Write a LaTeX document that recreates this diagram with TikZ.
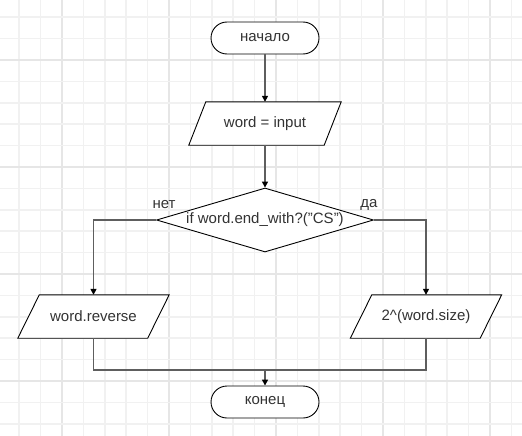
\documentclass[tikz,border=0pt]{standalone}
\usepackage{fontspec}
\setmainfont{Liberation Sans}
\usetikzlibrary{shapes.geometric,shapes.misc,arrows.meta}
\pgfdeclarelayer{gridlayer}
\pgfdeclarelayer{shapelayer}
\pgfsetlayers{gridlayer,shapelayer,main}
\definecolor{gridminor}{HTML}{F1F1F1}
\definecolor{gridmajor}{HTML}{E6E6E6}
\definecolor{conn}{HTML}{5E5E5E}
\definecolor{txt}{HTML}{333333}
\tikzset{
  labelfont/.style={text=txt, font=\fontsize{15pt}{17pt}\selectfont},
  terminal/.style={rounded rectangle, draw=black, line width=0.9pt, fill=white,
    minimum width=108pt, minimum height=32pt, inner sep=0pt, labelfont},
  iobox/.style={rectangle, draw=none, minimum height=43pt, inner sep=0pt, labelfont},
  iopath/.style={draw=black, line width=0.9pt, fill=white},
  decision/.style={diamond, draw=black, line width=0.9pt, fill=white, aspect=3.4,
    minimum width=217pt, minimum height=64pt, inner sep=0pt, labelfont},
  lbl/.style={inner sep=0pt, labelfont},
  conline/.style={draw=conn, line width=1.5pt},
  arr/.style={conline, -{Triangle[width=6pt,length=6pt,color=black]}}
}
\newcommand{\parashape}[2]{%
  \begin{pgfonlayer}{shapelayer}
  \draw[iopath] ([xshift=#2/2]#1.north west) -- ([xshift=#2/2]#1.north east)
     -- ([xshift=-#2/2]#1.south east) -- ([xshift=-#2/2]#1.south west) -- cycle;
  \end{pgfonlayer}}
\begin{document}
\begin{tikzpicture}[x=1pt,y=-1pt]
\useasboundingbox (0,0) rectangle (522,436);
\begin{pgfonlayer}{gridlayer}
\fill[white] (0,0) rectangle (522,436);
\foreach \k in {0,...,24}{
  \pgfmathsetmacro{\xx}{19.2+21.4*\k}
  \pgfmathtruncatemacro{\mm}{mod(\k+3,5)}
  \ifnum\mm=0
    \draw[gridmajor, line width=1.6pt] (\xx,0) -- (\xx,436);
  \else
    \draw[gridminor, line width=1.6pt] (\xx,0) -- (\xx,436);
  \fi
}
\foreach \k in {0,...,20}{
  \pgfmathsetmacro{\yy}{17.2+21.4*\k}
  \pgfmathtruncatemacro{\mm}{mod(\k+3,5)}
  \ifnum\mm=0
    \draw[gridmajor, line width=1.6pt] (0,\yy) -- (522,\yy);
  \else
    \draw[gridminor, line width=1.6pt] (0,\yy) -- (522,\yy);
  \fi
}
\end{pgfonlayer}
% nodes
\node[terminal] (start) at (265,38) {начало};
\node[iobox, minimum width=135pt] (inp) at (265,123.5) {word = input};
\parashape{inp}{17pt}
\node[decision] (dec) at (265,220) {if word.end\_with?("CS")};
\node[iobox, minimum width=129.5pt] (rev) at (93.5,316.5) {word.reverse};
\parashape{rev}{21.5pt}
\node[iobox, minimum width=129.5pt] (pow) at (426,316.5) {2\^{}(word.size)};
\parashape{pow}{21.5pt}
\node[terminal] (stop) at (265,402) {конец};
\node[lbl] (no) at (164,205) {нет};
\node[lbl] (yes) at (369,205) {да};
\coordinate (join) at (265,370);
% connectors
\draw[arr] (start.south) -- (inp.north);
\draw[arr] (inp.south) -- (dec.north);
\draw[arr] (dec.west) -| (rev.north);
\draw[arr] (dec.east) -| (pow.north);
\draw[conline] (rev.south) |- (join) -| (pow.south);
\draw[arr] (join) -- (stop.north);
\end{tikzpicture}
\end{document}
